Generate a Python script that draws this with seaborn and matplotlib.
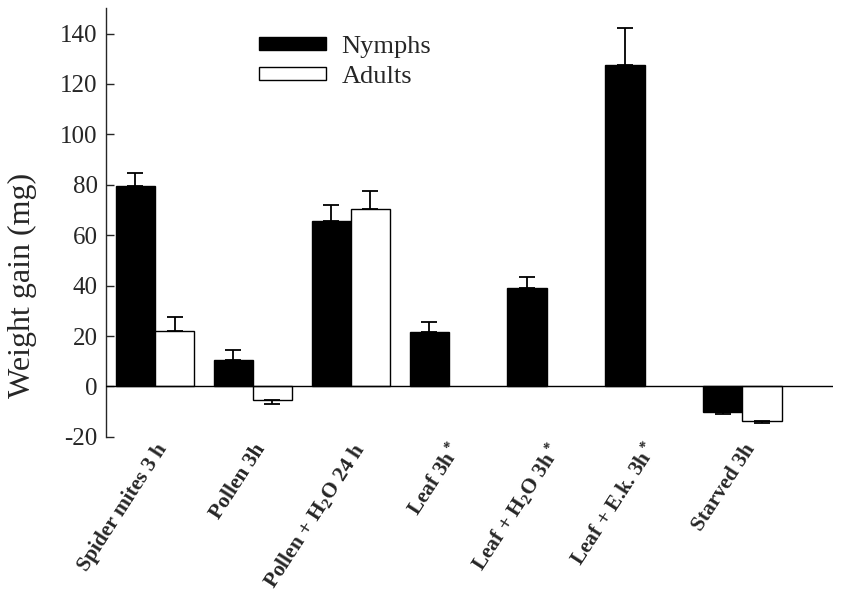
import numpy as np
import pandas as pd
import matplotlib
matplotlib.use("Agg")
import matplotlib.pyplot as plt
import seaborn as sns
from matplotlib.patches import Patch

# data
categories = ["Spider mites 3 h", "Pollen 3h", "Pollen + H$_2$O 24 h", "Leaf 3h$^*$",
              "Leaf + H$_2$O 3h$^*$", "Leaf + E.k. 3h$^*$", "Starved 3h"]
nymphs = [79.5, 10.5, 65.5, 21.5, 39.0, 127.5, -10.0]
nymphs_err = [5.0, 4.0, 6.5, 4.0, 4.5, 14.5, 1.0]
adults = [22.0, -5.5, 70.5, np.nan, np.nan, np.nan, -13.5]
adults_err = [5.5, 1.5, 7.0, np.nan, np.nan, np.nan, 1.0]
groups = ["Nymphs", "Adults"]

sns.set_style("ticks")
plt.rcParams["font.family"] = ["Liberation Serif", "DejaVu Serif"]
plt.rcParams["axes.unicode_minus"] = False
plt.rcParams["mathtext.fontset"] = "custom"
plt.rcParams["mathtext.rm"] = "Liberation Serif:bold"
plt.rcParams["mathtext.it"] = "Liberation Serif:bold"

df = pd.DataFrame({
    "cat": categories * 2,
    "group": [groups[0]] * len(categories) + [groups[1]] * len(categories),
    "val": nymphs + adults,
    "err": nymphs_err + adults_err,
}).dropna()

fig = plt.figure(figsize=(8.41, 5.92), dpi=100)
ax = fig.add_axes([0.126, 0.262, 0.864, 0.724])

sns.barplot(data=df, x="cat", y="val", hue="group", order=categories, hue_order=groups,
            palette={"Nymphs": "black", "Adults": "white"}, errorbar=None,
            width=0.8, edgecolor="black", linewidth=1.0, ax=ax, legend=False)

# one-sided error bars
offs = {"Nymphs": -0.2, "Adults": 0.2}
for _, r in df.iterrows():
    x = categories.index(r["cat"]) + offs[r["group"]]
    if r["val"] >= 0:
        yerr = [[0], [r["err"]]]
    else:
        yerr = [[r["err"]], [0]]
    ax.errorbar(x, r["val"], yerr=yerr, fmt="none", ecolor="black",
                elinewidth=1.3, capsize=6, capthick=1.3, zorder=3)

ax.set_xlim(-0.5, 6.92)
ax.set_ylim(-20, 150)
ax.set_yticks(range(-20, 141, 20))
ax.axhline(0, color="black", lw=1.0, zorder=4)
sns.despine(ax=ax, top=True, right=True, bottom=True)
ax.spines["left"].set_linewidth(1.0)
ax.tick_params(axis="y", direction="in", length=6, width=1.0, labelsize=18, pad=6)
ax.tick_params(axis="x", length=0, pad=2)
ax.set_xticks(range(len(categories)))
ax.set_xticklabels(categories, rotation=57, ha="right", rotation_mode="anchor",
                   fontsize=15.5, fontweight="bold")
ax.set_xlabel("")
ax.set_ylabel("Weight gain (mg)", fontsize=23)
ax.yaxis.set_label_coords(-0.095, 0.354)

handles = [Patch(facecolor="black", edgecolor="black"),
           Patch(facecolor="white", edgecolor="black", linewidth=1.0)]
ax.legend(handles, groups, loc="upper left", bbox_to_anchor=(0.21, 0.935),
          frameon=False, fontsize=19, handlelength=2.55, handleheight=0.38,
          handletextpad=0.6, labelspacing=0.3, borderpad=0, borderaxespad=0)

fig.savefig("out.png", dpi=100)
